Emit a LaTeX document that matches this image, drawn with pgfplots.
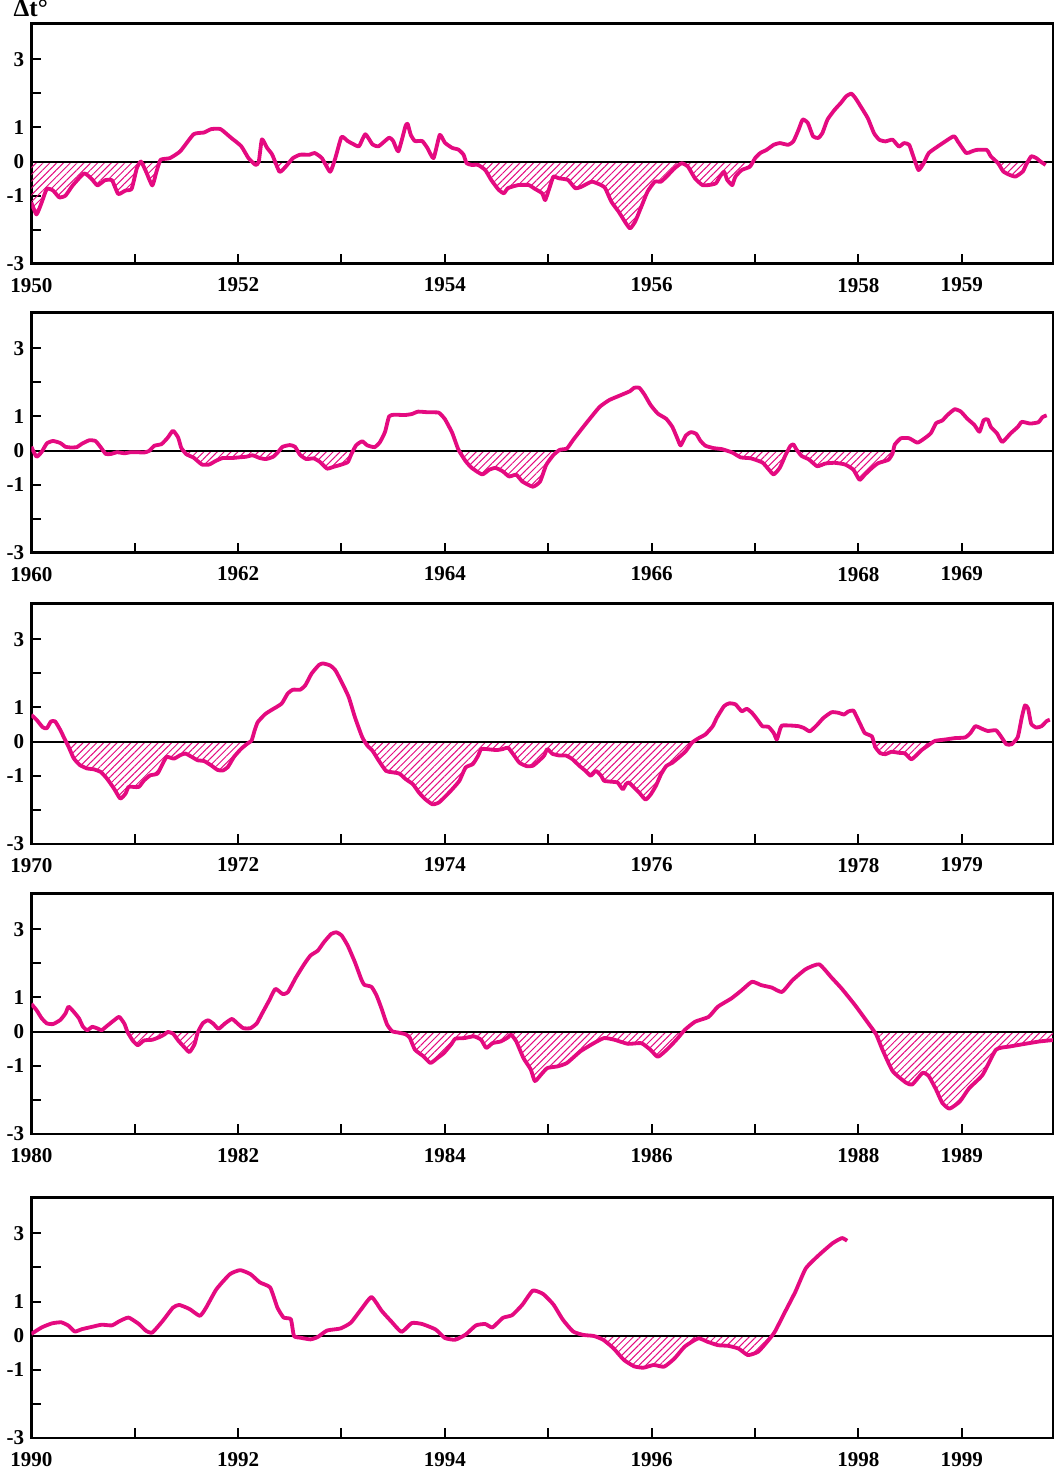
\documentclass[border=0pt]{standalone}
\usepackage{fontspec}
\setmainfont{Liberation Serif}
\usepackage{pgfplots}
\usepackage{pgfplotstable}
\pgfplotsset{compat=1.18}
\usetikzlibrary{patterns.meta}

\definecolor{tcol}{RGB}{228,10,128}

% decade 1950s
\pgfplotstableread{
t v
1950.00 -1.2
1950.05 -1.55
1950.10 -1.2
1950.15 -0.8
1950.21 -0.85
1950.27 -1.05
1950.33 -1.0
1950.40 -0.7
1950.51 -0.35
1950.58 -0.5
1950.64 -0.7
1950.71 -0.55
1950.78 -0.55
1950.84 -0.95
1950.91 -0.85
1950.97 -0.8
1951.02 -0.2
1951.06 0.0
1951.11 -0.3
1951.17 -0.7
1951.21 -0.3
1951.25 0.05
1951.34 0.1
1951.44 0.3
1951.57 0.8
1951.67 0.85
1951.74 0.95
1951.83 0.95
1951.93 0.7
1952.03 0.45
1952.10 0.1
1952.17 -0.1
1952.20 0.0
1952.23 0.65
1952.28 0.4
1952.33 0.2
1952.40 -0.3
1952.46 -0.15
1952.53 0.1
1952.60 0.2
1952.69 0.2
1952.74 0.25
1952.81 0.1
1952.89 -0.3
1952.94 0.1
1953.00 0.72
1953.06 0.6
1953.12 0.5
1953.17 0.45
1953.23 0.8
1953.30 0.5
1953.36 0.45
1953.46 0.7
1953.50 0.6
1953.55 0.3
1953.62 1.05
1953.64 1.1
1953.67 0.78
1953.71 0.6
1953.78 0.6
1953.83 0.4
1953.89 0.1
1953.95 0.78
1954.00 0.55
1954.07 0.4
1954.13 0.35
1954.18 0.2
1954.21 -0.05
1954.26 -0.1
1954.32 -0.1
1954.39 -0.25
1954.45 -0.55
1954.52 -0.83
1954.57 -0.93
1954.61 -0.78
1954.71 -0.69
1954.81 -0.69
1954.87 -0.8
1954.94 -0.93
1954.97 -1.13
1955.02 -0.69
1955.05 -0.44
1955.10 -0.49
1955.19 -0.54
1955.26 -0.78
1955.32 -0.74
1955.42 -0.59
1955.51 -0.69
1955.55 -0.78
1955.61 -1.18
1955.68 -1.47
1955.74 -1.76
1955.79 -1.96
1955.84 -1.76
1955.90 -1.32
1955.96 -0.88
1956.03 -0.59
1956.09 -0.59
1956.16 -0.39
1956.22 -0.2
1956.29 -0.05
1956.35 -0.15
1956.42 -0.5
1956.49 -0.69
1956.55 -0.69
1956.62 -0.64
1956.66 -0.44
1956.70 -0.3
1956.73 -0.54
1956.76 -0.64
1956.78 -0.69
1956.81 -0.44
1956.87 -0.25
1956.95 -0.15
1957.00 0.1
1957.05 0.25
1957.11 0.34
1957.18 0.49
1957.24 0.54
1957.32 0.49
1957.37 0.59
1957.42 0.93
1957.46 1.23
1957.51 1.13
1957.56 0.74
1957.61 0.69
1957.65 0.83
1957.70 1.23
1957.77 1.52
1957.83 1.72
1957.88 1.91
1957.93 1.99
1957.97 1.86
1958.02 1.62
1958.09 1.27
1958.15 0.83
1958.20 0.64
1958.26 0.59
1958.33 0.64
1958.39 0.44
1958.44 0.54
1958.49 0.49
1958.53 0.15
1958.58 -0.25
1958.63 -0.05
1958.68 0.25
1958.79 0.49
1958.92 0.74
1958.96 0.59
1959.04 0.25
1959.09 0.29
1959.14 0.34
1959.24 0.34
1959.28 0.15
1959.35 -0.05
1959.40 -0.29
1959.46 -0.39
1959.52 -0.44
1959.59 -0.29
1959.62 -0.1
1959.67 0.15
1959.72 0.1
1959.76 0.0
1959.81 -0.1
}\dA

% decade 1960s
\pgfplotstableread{
t v
1960.00 0.11
1960.05 -0.18
1960.10 -0.04
1960.15 0.21
1960.21 0.28
1960.28 0.22
1960.33 0.11
1960.38 0.09
1960.44 0.10
1960.49 0.2
1960.56 0.30
1960.62 0.28
1960.67 0.1
1960.72 -0.1
1960.77 -0.1
1960.83 -0.05
1960.90 -0.08
1960.96 -0.05
1961.03 -0.05
1961.09 -0.06
1961.14 -0.01
1961.19 0.14
1961.26 0.19
1961.32 0.38
1961.37 0.58
1961.42 0.38
1961.45 0.08
1961.50 -0.11
1961.57 -0.21
1961.65 -0.41
1961.72 -0.41
1961.78 -0.31
1961.85 -0.22
1961.94 -0.22
1962.01 -0.2
1962.08 -0.18
1962.14 -0.14
1962.21 -0.22
1962.27 -0.25
1962.34 -0.18
1962.39 -0.03
1962.43 0.11
1962.50 0.16
1962.55 0.11
1962.60 -0.13
1962.66 -0.25
1962.73 -0.23
1962.79 -0.33
1962.86 -0.53
1962.92 -0.48
1962.99 -0.42
1963.06 -0.34
1963.09 -0.14
1963.14 0.15
1963.20 0.27
1963.25 0.15
1963.32 0.1
1963.37 0.24
1963.42 0.54
1963.46 1.0
1963.51 1.05
1963.61 1.04
1963.68 1.07
1963.74 1.14
1963.84 1.12
1963.94 1.11
1964.00 0.92
1964.07 0.52
1964.13 0.03
1964.20 -0.31
1964.26 -0.51
1964.36 -0.7
1964.43 -0.56
1964.49 -0.51
1964.56 -0.61
1964.62 -0.76
1964.69 -0.71
1964.75 -0.91
1964.85 -1.06
1964.92 -0.91
1964.98 -0.42
1965.05 -0.13
1965.11 0.02
1965.18 0.06
1965.24 0.31
1965.34 0.70
1965.43 1.04
1965.50 1.29
1965.59 1.48
1965.69 1.61
1965.79 1.74
1965.83 1.84
1965.88 1.84
1965.93 1.64
1965.99 1.33
1966.06 1.08
1966.14 0.93
1966.20 0.69
1966.25 0.34
1966.28 0.15
1966.33 0.44
1966.38 0.54
1966.43 0.49
1966.47 0.29
1966.52 0.14
1966.60 0.07
1966.68 0.04
1966.78 -0.06
1966.86 -0.2
1966.96 -0.23
1967.07 -0.35
1967.13 -0.55
1967.18 -0.7
1967.24 -0.5
1967.29 -0.16
1967.34 0.13
1967.37 0.18
1967.40 0.03
1967.45 -0.16
1967.52 -0.26
1967.60 -0.46
1967.68 -0.38
1967.77 -0.36
1967.87 -0.41
1967.95 -0.56
1968.01 -0.86
1968.06 -0.71
1968.13 -0.51
1968.19 -0.37
1968.29 -0.27
1968.33 -0.08
1968.35 0.17
1968.41 0.36
1968.49 0.36
1968.57 0.23
1968.64 0.36
1968.70 0.51
1968.75 0.8
1968.81 0.88
1968.86 1.04
1968.93 1.21
1968.99 1.14
1969.05 0.94
1969.12 0.75
1969.17 0.55
1969.21 0.89
1969.25 0.91
1969.28 0.69
1969.34 0.5
1969.39 0.25
1969.47 0.5
1969.54 0.69
1969.58 0.84
1969.66 0.79
1969.74 0.83
1969.78 0.98
1969.82 1.03
}\dB

% decade 1970s
\pgfplotstableread{
t v
1970.00 0.78
1970.05 0.64
1970.11 0.42
1970.15 0.39
1970.19 0.59
1970.23 0.59
1970.28 0.34
1970.32 0.09
1970.36 -0.15
1970.41 -0.49
1970.47 -0.69
1970.54 -0.79
1970.60 -0.81
1970.67 -0.89
1970.73 -1.08
1970.80 -1.38
1970.86 -1.67
1970.91 -1.53
1970.94 -1.33
1970.99 -1.33
1971.04 -1.33
1971.09 -1.14
1971.15 -0.99
1971.22 -0.94
1971.27 -0.65
1971.31 -0.45
1971.38 -0.5
1971.44 -0.4
1971.49 -0.35
1971.54 -0.43
1971.61 -0.55
1971.67 -0.57
1971.74 -0.7
1971.80 -0.83
1971.85 -0.85
1971.90 -0.75
1971.96 -0.45
1972.03 -0.21
1972.09 -0.06
1972.13 0.03
1972.16 0.33
1972.19 0.57
1972.26 0.8
1972.32 0.92
1972.42 1.11
1972.48 1.41
1972.53 1.52
1972.60 1.52
1972.65 1.65
1972.71 1.99
1972.78 2.24
1972.82 2.29
1972.89 2.23
1972.94 2.09
1973.00 1.75
1973.07 1.30
1973.13 0.71
1973.20 0.13
1973.25 -0.12
1973.30 -0.27
1973.36 -0.56
1973.43 -0.86
1973.49 -0.9
1973.56 -0.94
1973.62 -1.1
1973.69 -1.25
1973.75 -1.5
1973.81 -1.69
1973.88 -1.84
1973.94 -1.79
1974.01 -1.59
1974.07 -1.4
1974.14 -1.15
1974.20 -0.76
1974.27 -0.66
1974.32 -0.42
1974.35 -0.22
1974.40 -0.22
1974.50 -0.25
1974.56 -0.22
1974.61 -0.18
1974.66 -0.37
1974.72 -0.62
1974.79 -0.72
1974.85 -0.71
1974.91 -0.56
1974.96 -0.41
1974.99 -0.22
1975.04 -0.36
1975.11 -0.41
1975.17 -0.41
1975.23 -0.51
1975.30 -0.71
1975.36 -0.86
1975.41 -1.0
1975.46 -0.86
1975.51 -1.0
1975.54 -1.15
1975.62 -1.18
1975.67 -1.2
1975.72 -1.4
1975.75 -1.25
1975.78 -1.2
1975.83 -1.35
1975.88 -1.5
1975.94 -1.7
1975.99 -1.55
1976.04 -1.3
1976.09 -0.96
1976.14 -0.72
1976.20 -0.62
1976.26 -0.47
1976.33 -0.28
1976.39 -0.03
1976.46 0.11
1976.52 0.21
1976.59 0.45
1976.63 0.7
1976.70 1.04
1976.75 1.12
1976.81 1.09
1976.87 0.89
1976.92 0.96
1976.97 0.84
1977.02 0.65
1977.07 0.45
1977.13 0.43
1977.18 0.25
1977.21 0.06
1977.24 0.35
1977.26 0.47
1977.34 0.47
1977.42 0.45
1977.47 0.4
1977.53 0.3
1977.60 0.49
1977.66 0.69
1977.74 0.86
1977.81 0.84
1977.86 0.79
1977.90 0.88
1977.95 0.91
1977.98 0.74
1978.02 0.49
1978.06 0.25
1978.13 0.15
1978.16 -0.15
1978.21 -0.34
1978.26 -0.37
1978.32 -0.3
1978.39 -0.33
1978.45 -0.35
1978.51 -0.52
1978.56 -0.4
1978.61 -0.25
1978.68 -0.1
1978.74 0.02
1978.84 0.06
1978.93 0.1
1979.03 0.12
1979.08 0.24
1979.13 0.45
1979.19 0.38
1979.25 0.31
1979.33 0.33
1979.38 0.14
1979.43 -0.08
1979.48 -0.08
1979.54 0.13
1979.58 0.72
1979.61 1.06
1979.64 0.97
1979.67 0.52
1979.72 0.41
1979.77 0.45
1979.82 0.6
1979.85 0.64
}\dC

% decade 1980s
\pgfplotstableread{
t v
1980.00 0.81
1980.05 0.63
1980.10 0.39
1980.15 0.24
1980.21 0.22
1980.28 0.34
1980.33 0.53
1980.36 0.73
1980.41 0.58
1980.46 0.39
1980.50 0.14
1980.54 0.04
1980.59 0.14
1980.64 0.09
1980.68 0.04
1980.73 0.16
1980.80 0.33
1980.85 0.43
1980.90 0.23
1980.93 -0.01
1980.98 -0.26
1981.03 -0.4
1981.09 -0.26
1981.17 -0.24
1981.24 -0.16
1981.29 -0.08
1981.32 -0.01
1981.37 -0.06
1981.42 -0.26
1981.48 -0.46
1981.53 -0.6
1981.58 -0.36
1981.61 -0.02
1981.66 0.25
1981.71 0.33
1981.76 0.23
1981.81 0.08
1981.87 0.23
1981.94 0.37
1982.00 0.22
1982.05 0.1
1982.12 0.1
1982.18 0.24
1982.23 0.52
1982.30 0.91
1982.36 1.25
1982.43 1.1
1982.48 1.15
1982.56 1.59
1982.64 1.98
1982.70 2.23
1982.77 2.37
1982.83 2.62
1982.90 2.86
1982.95 2.91
1983.00 2.82
1983.06 2.52
1983.13 2.03
1983.19 1.54
1983.22 1.37
1983.29 1.31
1983.34 1.05
1983.39 0.65
1983.44 0.21
1983.49 0.01
1983.55 -0.03
1983.62 -0.08
1983.66 -0.18
1983.71 -0.53
1983.79 -0.72
1983.86 -0.92
1983.93 -0.77
1983.99 -0.63
1984.06 -0.38
1984.10 -0.21
1984.19 -0.19
1984.28 -0.14
1984.35 -0.24
1984.40 -0.48
1984.46 -0.34
1984.54 -0.29
1984.61 -0.17
1984.64 -0.09
1984.69 -0.29
1984.76 -0.78
1984.83 -1.11
1984.87 -1.45
1984.93 -1.26
1984.99 -1.07
1985.09 -1.02
1985.18 -0.92
1985.31 -0.58
1985.44 -0.34
1985.54 -0.19
1985.64 -0.24
1985.77 -0.36
1985.90 -0.34
1985.99 -0.54
1986.06 -0.74
1986.16 -0.49
1986.25 -0.2
1986.32 0.05
1986.42 0.29
1986.55 0.43
1986.64 0.73
1986.77 0.97
1986.87 1.21
1986.97 1.46
1987.06 1.36
1987.16 1.29
1987.26 1.16
1987.36 1.5
1987.49 1.83
1987.62 1.97
1987.74 1.58
1987.84 1.25
1987.97 0.76
1988.10 0.22
1988.17 -0.08
1988.23 -0.52
1988.33 -1.16
1988.46 -1.5
1988.52 -1.55
1988.62 -1.21
1988.68 -1.31
1988.75 -1.7
1988.81 -2.09
1988.88 -2.26
1988.98 -2.05
1989.07 -1.66
1989.20 -1.27
1989.33 -0.53
1989.46 -0.44
1989.59 -0.37
1989.75 -0.29
1989.88 -0.25
}\dD

% decade 1990s
\pgfplotstableread{
t v
1990.00 0.05
1990.10 0.24
1990.20 0.36
1990.29 0.39
1990.36 0.29
1990.42 0.12
1990.49 0.19
1990.59 0.26
1990.68 0.32
1990.78 0.3
1990.85 0.42
1990.94 0.53
1991.04 0.34
1991.11 0.14
1991.17 0.09
1991.27 0.43
1991.37 0.82
1991.43 0.9
1991.53 0.78
1991.63 0.58
1991.69 0.82
1991.79 1.36
1991.92 1.8
1992.02 1.92
1992.12 1.8
1992.21 1.56
1992.31 1.41
1992.38 0.82
1992.44 0.53
1992.51 0.48
1992.54 -0.01
1992.60 -0.06
1992.70 -0.11
1992.77 -0.04
1992.86 0.15
1992.99 0.21
1993.09 0.38
1993.19 0.77
1993.29 1.13
1993.39 0.72
1993.48 0.42
1993.58 0.11
1993.68 0.37
1993.78 0.34
1993.91 0.18
1994.00 -0.07
1994.10 -0.12
1994.20 0.03
1994.30 0.3
1994.39 0.34
1994.46 0.24
1994.56 0.52
1994.65 0.6
1994.75 0.91
1994.85 1.32
1994.95 1.22
1995.05 0.91
1995.14 0.47
1995.24 0.12
1995.34 0.02
1995.44 -0.01
1995.53 -0.12
1995.63 -0.37
1995.73 -0.71
1995.83 -0.9
1995.92 -0.94
1996.02 -0.86
1996.12 -0.91
1996.22 -0.67
1996.32 -0.32
1996.45 -0.08
1996.54 -0.18
1996.64 -0.28
1996.74 -0.3
1996.84 -0.38
1996.93 -0.57
1997.03 -0.47
1997.13 -0.13
1997.19 0.11
1997.29 0.7
1997.39 1.29
1997.49 1.97
1997.62 2.37
1997.75 2.71
1997.84 2.86
1997.89 2.78
}\dE

\pgfplotsset{
  dec/.style={
    scale only axis, width=509pt, height=119.85pt,
    ymin=-3, ymax=4.05,
    ytick={-3,-2,-1,0,1,2,3}, yticklabels={-3,,-1,0,1,,3},
    tick align=inside, tick pos=left, major tick length=5pt,
    axis line style={line width=1.4pt},
    tick style={line width=1pt, black},
    ticklabel style={font=\bfseries\fontsize{10.5}{12}\selectfont},
    xticklabel style={yshift=-3.5pt},
  },
  curve/.style={color=tcol, line width=1.9pt, line join=round, smooth, tension=0.3},
  hatch/.style={draw=none, pattern={Lines[angle=45,distance=2.4pt,line width=0.5pt]}, pattern color=tcol},
  zline/.style={black, line width=1pt},
}

\begin{document}
\begin{tikzpicture}
  \begin{axis}[dec, name=p1, at={(0,0)},
      xmin=1950, xmax=1959.88, xtick={1950,...,1959},
      xticklabels={1950,,1952,,1954,,1956,,1958,1959}]
    \addplot[hatch] table[x=t, y expr={min(\thisrow{v},0)}] {\dA} \closedcycle;
    \addplot[zline] coordinates {(1950,0) (1959.88,0)};
    \addplot[curve] table[x=t, y=v] {\dA};
  \end{axis}
  \node[anchor=south west, inner sep=0pt, font=\bfseries\fontsize{12.5}{14}\selectfont]
    at ([xshift=-9pt, yshift=3pt]p1.north west) {Δt°};

  \begin{axis}[dec, at={(0,-144pt)},
      xmin=1960, xmax=1969.88, xtick={1960,...,1969},
      xticklabels={1960,,1962,,1964,,1966,,1968,1969}]
    \addplot[hatch] table[x=t, y expr={min(\thisrow{v},0)}] {\dB} \closedcycle;
    \addplot[zline] coordinates {(1960,0) (1969.88,0)};
    \addplot[curve] table[x=t, y=v] {\dB};
  \end{axis}

  \begin{axis}[dec, at={(0,-289pt)},
      xmin=1970, xmax=1979.88, xtick={1970,...,1979},
      xticklabels={1970,,1972,,1974,,1976,,1978,1979}]
    \addplot[hatch] table[x=t, y expr={min(\thisrow{v},0)}] {\dC} \closedcycle;
    \addplot[zline] coordinates {(1970,0) (1979.88,0)};
    \addplot[curve] table[x=t, y=v] {\dC};
  \end{axis}

  \begin{axis}[dec, at={(0,-433.5pt)},
      xmin=1980, xmax=1989.88, xtick={1980,...,1989},
      xticklabels={1980,,1982,,1984,,1986,,1988,1989}]
    \addplot[hatch] table[x=t, y expr={min(\thisrow{v},0)}] {\dD} \closedcycle;
    \addplot[zline] coordinates {(1980,0) (1989.88,0)};
    \addplot[curve] table[x=t, y=v] {\dD};
  \end{axis}

  \begin{axis}[dec, at={(0,-585pt)},
      xmin=1990, xmax=1999.88, xtick={1990,...,1999},
      xticklabels={1990,,1992,,1994,,1996,,1998,1999}]
    \addplot[hatch] table[x=t, y expr={min(\thisrow{v},0)}] {\dE} \closedcycle;
    \addplot[zline] coordinates {(1990,0) (1999.88,0)};
    \addplot[curve] table[x=t, y=v] {\dE};
  \end{axis}
\end{tikzpicture}
\end{document}
